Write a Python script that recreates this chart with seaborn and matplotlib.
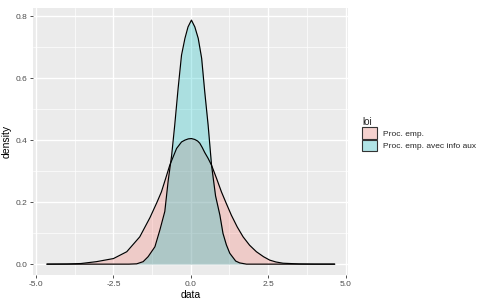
import matplotlib
matplotlib.use("Agg")
import matplotlib.pyplot as plt
import numpy as np
import pandas as pd
import seaborn as sns
from matplotlib.patches import Patch
from matplotlib.ticker import MultipleLocator

# ---- data ----
series_names = ["Proc. emp.", "Proc. emp. avec info aux"]

emp_x = [-4.65, -4.0, -3.55, -3.05, -2.5, -2.07, -1.65, -1.32, -1.1, -0.95,
         -0.82, -0.68, -0.57, -0.46, -0.30, -0.19, -0.08, 0.02, 0.13, 0.22,
         0.29, 0.37, 0.45, 0.56, 0.67, 0.83, 0.99, 1.15, 1.31, 1.50,
         1.69, 1.90, 2.12, 2.35, 2.55, 2.75, 2.98, 3.5, 4.0, 4.65]
emp_y = [0.0, 0.0005, 0.002, 0.008, 0.018, 0.04, 0.088, 0.15, 0.198, 0.233,
         0.274, 0.319, 0.346, 0.373, 0.394, 0.400, 0.404, 0.405, 0.402, 0.397,
         0.39, 0.376, 0.36, 0.341, 0.319, 0.277, 0.233, 0.195, 0.158, 0.12,
         0.088, 0.061, 0.04, 0.024, 0.013, 0.007, 0.003, 0.0007, 0.0001, 0.0]

aux_x = [-4.65, -2.0, -1.75, -1.54, -1.38, -1.16, -1.0, -0.84, -0.73, -0.62,
         -0.52, -0.41, -0.30, -0.19, -0.09, 0.02, 0.13, 0.24, 0.35, 0.45,
         0.56, 0.67, 0.80, 0.94, 1.04, 1.15, 1.26, 1.45, 1.58, 1.8, 4.65]
aux_y = [0.0, 0.0, 0.001, 0.008, 0.024, 0.056, 0.11, 0.17, 0.27, 0.35,
         0.448, 0.567, 0.674, 0.728, 0.765, 0.787, 0.765, 0.728, 0.664, 0.556,
         0.448, 0.319, 0.22, 0.158, 0.099, 0.062, 0.035, 0.01, 0.004, 0.0, 0.0]

x_ticks = [-5.0, -2.5, 0.0, 2.5, 5.0]
y_ticks = [0.0, 0.2, 0.4, 0.6, 0.8]
x_tick_labels = ["-5.0", "-2.5", "0.0", "2.5", "5.0"]
y_tick_labels = ["0.0", "0.2", "0.4", "0.6", "0.8"]

df = pd.concat([
    pd.DataFrame({"data": emp_x, "density": emp_y, "loi": series_names[0]}),
    pd.DataFrame({"data": aux_x, "density": aux_y, "loi": series_names[1]}),
], ignore_index=True)

# ---- style ----
sns.set_theme(style="darkgrid", rc={
    "axes.facecolor": "#EBEBEB",
    "grid.color": "white",
    "axes.edgecolor": "none",
    "xtick.bottom": True,
    "ytick.left": True,
    "xtick.color": "#333333",
    "ytick.color": "#333333",
    "xtick.labelcolor": "#4D4D4D",
    "ytick.labelcolor": "#4D4D4D",
    "xtick.major.size": 2.5,
    "ytick.major.size": 2.5,
    "xtick.major.width": 0.6,
    "ytick.major.width": 0.6,
    "xtick.major.pad": 1.5,
    "ytick.major.pad": 1.5,
})
plt.rcParams["font.family"] = ["Liberation Sans", "DejaVu Sans"]

palette = {series_names[0]: "#F8766D", series_names[1]: "#00BFC4"}
alpha = 0.27

W, H = 482, 306
fig = plt.figure(figsize=(W / 100, H / 100), dpi=100)
ax = fig.add_axes([33 / W, 1 - 275 / H, (348 - 33) / W, (275 - 8) / H])

for name in series_names:
    sub = df[df["loi"] == name]
    ax.fill_between(sub["data"], sub["density"], 0, color=palette[name],
                    alpha=alpha, lw=0, zorder=2)
    sns.lineplot(data=sub, x="data", y="density", color="black", lw=0.85,
                 sort=False, estimator=None, ax=ax, zorder=3)

ax.set_xlim(-5.1, 5.08)
ax.set_ylim(-0.035, 0.826)
ax.set_xticks(x_ticks)
ax.set_xticklabels(x_tick_labels)
ax.set_yticks(y_ticks)
ax.set_yticklabels(y_tick_labels)
ax.xaxis.set_minor_locator(MultipleLocator(1.25))
ax.yaxis.set_minor_locator(MultipleLocator(0.1))
ax.tick_params(which="minor", length=0)
ax.tick_params(which="major", labelsize=6)
ax.grid(which="major", color="white", lw=1.0)
ax.grid(which="minor", color="white", lw=0.5)
ax.set_axisbelow(True)
for s in ax.spines.values():
    s.set_visible(False)

ax.set_xlabel("data", fontsize=7.5, color="black", labelpad=2)
ax.set_ylabel("density", fontsize=7.5, color="black", labelpad=3)

# legend
key_bg = np.array([0xF2, 0xF2, 0xF2]) / 255
handles = []
for name in series_names:
    c = np.array(matplotlib.colors.to_rgb(palette[name]))
    fc = tuple((1 - alpha) * key_bg + alpha * c)
    handles.append(Patch(facecolor=fc, edgecolor="#333333", lw=0.8))
fig.legend(handles, series_names, title="loi", loc="upper left",
           bbox_to_anchor=(362 / W, 1 - 117 / H), frameon=False,
           fontsize=6, title_fontsize=7, handlelength=1.8, handleheight=1.8,
           handletextpad=0.7, labelspacing=0.05, borderpad=0,
           borderaxespad=0, alignment="left")

fig.savefig("out.png", dpi=100)
